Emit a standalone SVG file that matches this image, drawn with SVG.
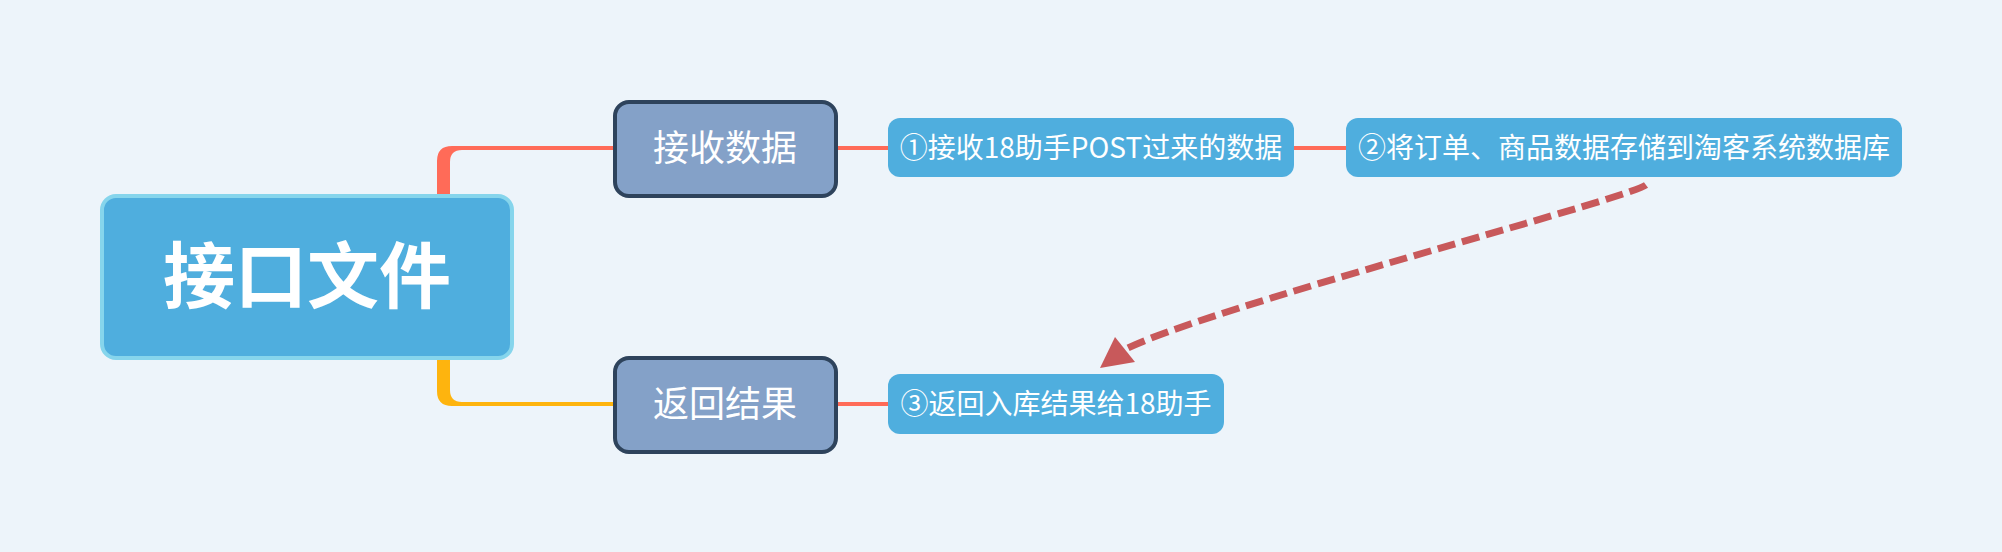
<svg xmlns="http://www.w3.org/2000/svg" width="2002" height="552" viewBox="0 0 2002 552">
<style>
.bg{fill:#edf4fa}
.root{fill:#4faede;stroke:#86d5ec;stroke-width:4}
.main{fill:#84a1c8;stroke:#2e435c;stroke-width:4}
.leaf{fill:#4faede}
.t{font-family:"Noto Sans CJK SC","Microsoft YaHei",sans-serif;fill:#ffffff;text-anchor:middle}
.rt{font-size:72px;font-weight:700}
.mt{font-size:36px}
.lt{font-size:28px}
.ln{fill:none;stroke:#ff6b58;stroke-width:4}
.rel{fill:none;stroke:#c8595b;stroke-width:7;stroke-dasharray:18 7}
</style>
<rect class="bg" x="0" y="0" width="2002" height="552"/>
<g id="connectors">
<path d="M437,270 L437,161 Q437,146 452,146 L613,146 L613,150 L462,150 Q450,150 450,162 L450,270 Z" fill="#ff6b58"/>
<path d="M437,280 L437,391 Q437,406 452,406 L613,406 L613,402 L462,402 Q450,402 450,390 L450,280 Z" fill="#feb40e"/>
<path class="ln" d="M837,148 L888,148"/>
<path class="ln" d="M1294,148 L1346,148"/>
<path class="ln" d="M837,404 L888,404"/>
<path class="rel" d="M1646,185 C1625,200 1200,310 1124,350"/>
<path d="M1100,368 L1115,337 L1135,362 Z" fill="#c8595b"/>
</g>
<g id="root">
<rect class="root" x="102" y="196" width="410" height="162" rx="14"/>
<text class="t rt" x="307" y="302">接口文件</text>
</g>
<g id="n1">
<rect class="main" x="615" y="102" width="221" height="94" rx="14"/>
<text class="t mt" x="725" y="161">接收数据</text>
</g>
<g id="n2">
<rect class="main" x="615" y="358" width="221" height="94" rx="14"/>
<text class="t mt" x="725" y="417">返回结果</text>
</g>
<g id="l1">
<rect class="leaf" x="888" y="118" width="406" height="59" rx="12"/>
<text class="t lt" x="1091" y="158">①接收18助手POST过来的数据</text>
</g>
<g id="l2">
<rect class="leaf" x="1346" y="118" width="556" height="59" rx="12"/>
<text class="t lt" x="1624" y="158">②将订单、商品数据存储到淘客系统数据库</text>
</g>
<g id="l3">
<rect class="leaf" x="888" y="374" width="336" height="60" rx="12"/>
<text class="t lt" x="1056" y="414">③返回入库结果给18助手</text>
</g>
</svg>
